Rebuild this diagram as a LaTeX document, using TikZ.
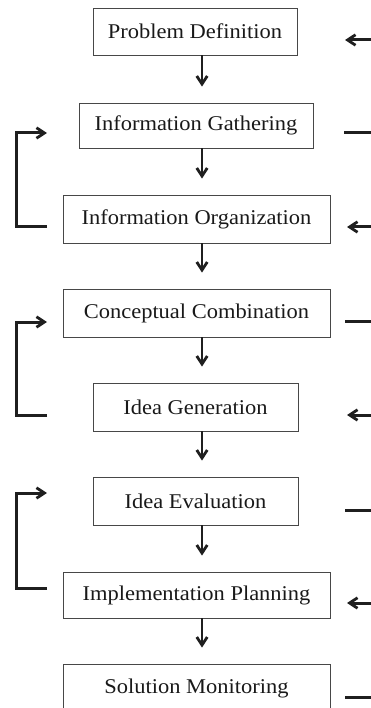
\documentclass[tikz,border=0pt]{standalone}
\usepackage{fontspec}
\setmainfont[FakeStretch=1.07]{Liberation Serif}
\usetikzlibrary{arrows.meta}
\begin{document}
\begin{tikzpicture}[x=1pt,y=-1pt,
  box/.style={draw=black!72, line width=0.9pt, inner sep=0pt, text=black!90,
    font=\fontsize{21}{25}\selectfont, anchor=center},
  tip/.style={-{Straight Barb[length=8pt,width=10.5pt,line width=2.8pt]}},
  flow/.style={line width=2.8pt, draw=black!88, tip, shorten >=16pt},
  loopline/.style={line width=3pt, draw=black!88, line join=miter, tip},
  sidein/.style={line width=3pt, draw=black!88, tip},
  sideout/.style={line width=3pt, draw=black!88}
]
\useasboundingbox (0,0) rectangle (371,708);
\clip (0,0) rectangle (371,708);

% boxes
\node[box, minimum width=204pt, minimum height=47pt] (pd) at (195,31.5) {Problem Definition};
\node[box, minimum width=234pt, minimum height=45pt] (ig) at (196,125.5) {Information Gathering};
\node[box, minimum width=267pt, minimum height=48pt] (io) at (196.5,219) {Information Organization};
\node[box, minimum width=267pt, minimum height=48pt] (cc) at (196.5,313) {Conceptual Combination};
\node[box, minimum width=205pt, minimum height=48pt] (idg) at (195.5,407) {Idea Generation};
\node[box, minimum width=205pt, minimum height=48pt] (ie) at (195.5,501) {Idea Evaluation};
\node[box, minimum width=267pt, minimum height=46pt] (ip) at (196.5,595) {Implementation Planning};
\node[box, minimum width=267pt, minimum height=48pt] (sm) at (196.5,688) {Solution Monitoring};

% vertical flow arrows
\coordinate (ax) at (202,0);
\draw[flow] (pd.south -| ax) -- (ig.north -| ax);
\draw[flow] (ig.south -| ax) -- (io.north -| ax);
\draw[flow] (io.south -| ax) -- (cc.north -| ax);
\draw[flow] (cc.south -| ax) -- (idg.north -| ax);
\draw[flow] (idg.south -| ax) -- (ie.north -| ax);
\draw[flow] (ie.south -| ax) -- (ip.north -| ax);
\draw[flow] (ip.south -| ax) -- (sm.north -| ax);

% left feedback brackets
\coordinate (l1s) at (47,227);  \coordinate (l1e) at (47,133);
\coordinate (l2s) at (47,415);  \coordinate (l2e) at (47,322);
\coordinate (l3s) at (47,588);  \coordinate (l3e) at (47,493);
\draw[loopline] (l1s) -- (16.5,227) -- (16.5,133) -- (l1e);
\draw[loopline] (l2s) -- (16.5,415) -- (16.5,322) -- (l2e);
\draw[loopline] (l3s) -- (16.5,588) -- (16.5,493) -- (l3e);

% right side arrows (incoming)
\coordinate (r1o) at (375,40);  \coordinate (r1i) at (345,40);
\coordinate (r2o) at (375,227); \coordinate (r2i) at (347,227);
\coordinate (r3o) at (375,415); \coordinate (r3i) at (347,415);
\coordinate (r4o) at (375,603); \coordinate (r4i) at (347,603);
\draw[sidein] (r1o) -- (r1i);
\draw[sidein] (r2o) -- (r2i);
\draw[sidein] (r3o) -- (r3i);
\draw[sidein] (r4o) -- (r4i);

% right side lines (outgoing)
\coordinate (s1a) at (344,133); \coordinate (s1b) at (375,133);
\coordinate (s2a) at (345,321); \coordinate (s2b) at (375,321);
\coordinate (s3a) at (345,510); \coordinate (s3b) at (375,510);
\coordinate (s4a) at (345,697); \coordinate (s4b) at (375,697);
\draw[sideout] (s1a) -- (s1b);
\draw[sideout] (s2a) -- (s2b);
\draw[sideout] (s3a) -- (s3b);
\draw[sideout] (s4a) -- (s4b);
\end{tikzpicture}
\end{document}
